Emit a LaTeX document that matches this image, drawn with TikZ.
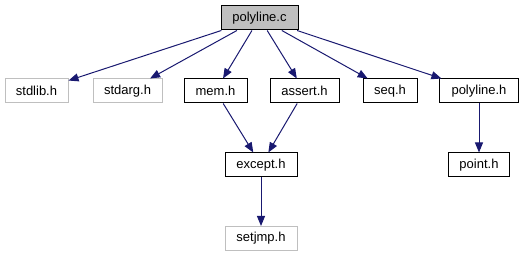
\documentclass[tikz,border=0pt]{standalone}
\usepackage{fontspec}
\setmainfont{Liberation Sans}
\usetikzlibrary{arrows.meta}
\definecolor{edgeblue}{HTML}{191970}
\definecolor{lightframe}{HTML}{BFBFBF}
\begin{document}
\begin{tikzpicture}[x=1pt,y=-1pt,
  filebox/.style={draw=black,line width=1pt,minimum height=24pt,inner sep=0pt,
    font=\fontsize{13}{15}\selectfont},
  sysbox/.style={filebox,draw=lightframe},
  rootbox/.style={filebox,fill=lightframe},
  dep/.style={draw=edgeblue,line width=1pt,
    -{Triangle[length=10pt,width=8pt,fill=edgeblue]}}]
\useasboundingbox (0,0) rectangle (525,256);

\node[rootbox,minimum width=77pt] (root) at (259.5,18) {polyline.c};
\node[sysbox,minimum width=63pt] (stdlib) at (36.5,91) {stdlib.h};
\node[sysbox,minimum width=69pt] (stdarg) at (127.5,91) {stdarg.h};
\node[filebox,minimum width=63pt] (mem) at (215.5,91) {mem.h};
\node[filebox,minimum width=69pt] (assert) at (304.5,91) {assert.h};
\node[filebox,minimum width=54pt] (seq) at (390,91) {seq.h};
\node[filebox,minimum width=79pt] (polyh) at (479,91) {polyline.h};
\node[filebox,minimum width=61pt] (point) at (479,165) {point.h};
\node[filebox,minimum width=72pt] (except) at (261,165) {except.h};
\node[sysbox,minimum width=72pt] (setjmp) at (261,238.5) {setjmp.h};

\draw[dep] (root) -- (stdlib);
\draw[dep] (root) -- (stdarg);
\draw[dep] (root) -- (mem);
\draw[dep] (root) -- (assert);
\draw[dep] (root) -- (seq);
\draw[dep] (root) -- (polyh);
\draw[dep] (mem) -- (except);
\draw[dep] (assert) -- (except);
\draw[dep] (polyh) -- (point);
\draw[dep] (except) -- (setjmp);
\end{tikzpicture}
\end{document}
